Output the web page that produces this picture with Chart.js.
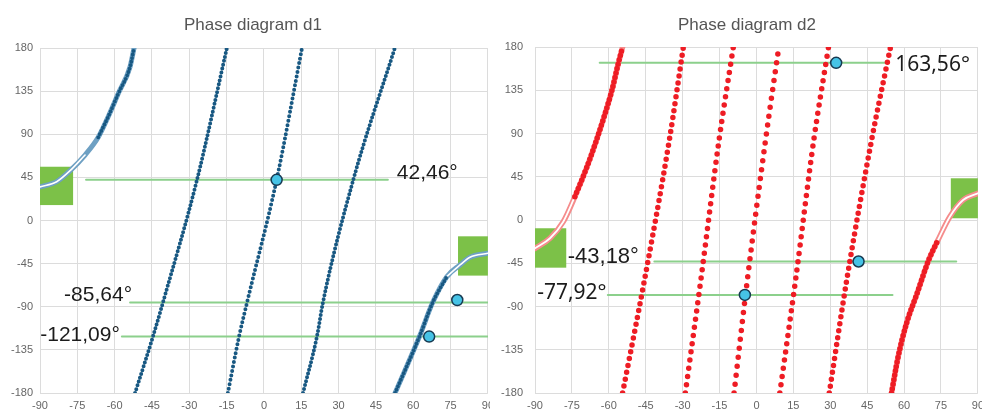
<!DOCTYPE html>
<html>
<head>
<meta charset="utf-8">
<script src="https://cdn.jsdelivr.net/npm/chart.js@4.4.1/dist/chart.umd.min.js"></script>
<style>
  html, body { margin: 0; padding: 0; background: #fff; overflow: hidden; }
  body { width: 982px; height: 414px; position: relative; }
  canvas { position: absolute; top: 0; background: #fff; }
  #d1 { left: 0; }
  #d2 { left: 490px; }
  .title {
    position: absolute; top: 15px; width: 300px; text-align: center;
    font: 17px "Liberation Sans", Arial, sans-serif; line-height: 20px; color: #555;
  }
</style>
</head>
<body>
<canvas id="d1" width="500" height="414"></canvas>
<canvas id="d2" width="500" height="414"></canvas>
<div class="title" style="left: 103px;">Phase diagram d1</div>
<div class="title" style="left: 597px;">Phase diagram d2</div>
<script>
// axis ticks (angle on x, phase on y)
const xTicks = [-90, -75, -60, -45, -30, -15, 0, 15, 30, 45, 60, 75, 90];
const yTicks = [-180, -135, -90, -45, 0, 45, 90, 135, 180];

// --- d1: straight wraps, x read at these phase levels ---
const d1Levels = [-180, -121.09, -85.64, 42.46, 180];
const d1Line1 = [-51.8, -44.6, -40.6, -26.9, -14.9];
const d1Line2 = [-14.5, -10.0, -6.8, 5.1, 15.3];
const d1Line3 = [15.7, 21.3, 23.7, 35.9, 52.6];
// d1 curved ends
const d1LeftX = [-90, -83.3, -77.9, -71.9, -66.6, -62.6, -58.5, -53.8, -52.2];
const d1LeftY = [35, 40.5, 52, 68.3, 86.8, 108.3, 132.7, 160.5, 180];
const d1RightX = [52.7, 62.5, 67.8, 73.5, 78.8, 82.8, 90];
const d1RightY = [-180, -121.09, -85.64, -58.6, -46.4, -38.3, -34.2];
// d1 reference lines, markers, boxes, labels
const d1GuideY = [42.46, -85.64, -121.09];
const d1GuideFrom = [-71.5, -53.8, -57.1];
const d1GuideTo = [49.8, 90, 90];
const d1MarkX = [5.1, 66.4, 77.7];
const d1MarkY = [42.46, -121.09, -83];
const d1BoxX0 = [-90, 78];
const d1BoxX1 = [-76.7, 90];
const d1BoxY0 = [16.1, -57.5];
const d1BoxY1 = [56.1, -16.5];
const d1Texts = ['42,46°', '-85,64°', '-121,09°'];
const d1TextX = [53.4, -53.0, -57.9];
const d1TextY = [49.5, -77.8, -119.6];

// --- d2 ---
const d2Levels = [-180, -62.4, 83.2, 180];
const d2Line1 = [-54.4, -45.5, -35.4, -29.7];
const d2Line2 = [-28.9, -22.6, -15.2, -9.4];
const d2Line3 = [-9.1, -3.7, 3.7, 9.1];
const d2Line4 = [9.5, 15.9, 23.3, 29.3];
const d2Line5 = [29.6, 36.7, 46.8, 54.5];
const d2LeftX = [-90, -83.9, -78.5, -73.8, -69.1, -65, -61.7, -58.7, -56.3, -54.4];
const d2LeftY = [-29.5, -19, -1.8, 24.2, 53.8, 83.2, 109.2, 135.3, 161.3, 180];
const d2RightX = [54.9, 57.6, 61.0, 65.3, 70.0, 73.8, 78.6, 84, 90];
const d2RightY = [-180, -142.2, -107.5, -76.3, -41.6, -20.8, 3.4, 20.8, 27.8];
const d2GuideY = [163.56, -43.18, -77.92];
const d2GuideFrom = [-63.7, -41.5, -60.4];
const d2GuideTo = [52.3, 81.2, 55.3];
const d2MarkX = [32.4, 41.5, -4.7];
const d2MarkY = [163.56, -43.18, -77.92];
const d2BoxX0 = [-90, 79];
const d2BoxX1 = [-77.3, 90];
const d2BoxY0 = [-49.6, 1.8];
const d2BoxY1 = [-8.6, 43.4];
const d2Texts = ['163,56°', '-43,18°', '-77,92°'];
const d2TextX = [56.4, -76.7, -60.9];
const d2TextY = [160.8, -38.5, -76];

const BLUE = 'rgb(24,88,130)';
const RED = 'rgb(238,28,36)';
const GUIDE = 'rgb(140,208,140)';
const BOX = '#7cc148';

Chart.defaults.font.family = '"Liberation Sans", Arial, sans-serif';

function pts(xs, ys) {
    return xs.map((x, i) => ({ x: x, y: ys[i] }));
}

function dotted(data, color, width, gap) {
    return {
        data: data, showLine: true, borderColor: color, borderWidth: width,
        borderDash: [0, gap], borderCapStyle: 'round', borderJoinStyle: 'round',
        pointRadius: 0, cubicInterpolationMode: 'monotone', order: 1
    };
}

function solid(data, color, width, order) {
    return {
        data: data, showLine: true, borderColor: color, borderWidth: width,
        borderCapStyle: 'round', pointRadius: 0, cubicInterpolationMode: 'monotone', order: order
    };
}

function guides(ys, from, to) {
    return ys.map((y, i) => solid([{ x: from[i], y: y }, { x: to[i], y: y }], GUIDE, 2, 5));
}

function markers(xs, ys) {
    return {
        data: pts(xs, ys), showLine: false, pointRadius: 5.5,
        pointBackgroundColor: '#46c3e6', pointBorderColor: '#173a52', pointBorderWidth: 1.5, order: 0
    };
}

// boxes under the data, value labels on top
function overlay(box, text, align, font) {
    return {
        id: 'overlay',
        beforeDatasetsDraw(chart) {
            const { ctx, chartArea: a, scales: { x, y } } = chart;
            ctx.save();
            ctx.beginPath();
            ctx.rect(a.left, a.top, a.right - a.left, a.bottom - a.top);
            ctx.clip();
            ctx.fillStyle = BOX;
            box.x0.forEach((v, i) => {
                const l = x.getPixelForValue(v), r = x.getPixelForValue(box.x1[i]);
                const t = y.getPixelForValue(box.y1[i]), b = y.getPixelForValue(box.y0[i]);
                ctx.fillRect(l, t, r - l, b - t);
            });
            ctx.restore();
        },
        afterDatasetsDraw(chart) {
            const { ctx, scales: { x, y } } = chart;
            ctx.save();
            ctx.fillStyle = '#1c1c1c';
            ctx.textBaseline = 'middle';
            text.t.forEach((s, i) => {
                ctx.font = font[i];
                ctx.textAlign = align[i];
                ctx.fillText(s, x.getPixelForValue(text.x[i]), y.getPixelForValue(text.y[i]));
            });
            ctx.restore();
        }
    };
}

function makeChart(id, datasets, plugin, pad, yWidth, yPad) {
    return new Chart(document.getElementById(id), {
        type: 'scatter',
        data: { datasets: datasets },
        options: {
            responsive: false,
            animation: false,
            devicePixelRatio: 1,
            layout: { padding: pad },
            plugins: {
                legend: { display: false },
                tooltip: { enabled: false },
                title: { display: false }
            },
            scales: {
                x: {
                    type: 'linear', min: -90, max: 90,
                    afterBuildTicks: s => { s.ticks = xTicks.map(v => ({ value: v })); },
                    afterFit: s => { s.height = 21; },
                    grid: { color: '#dcdcdc', drawTicks: false },
                    border: { display: false },
                    ticks: { color: '#666', font: { size: 11 }, padding: 6, maxRotation: 0, autoSkip: false }
                },
                y: {
                    type: 'linear', min: -180, max: 180,
                    afterBuildTicks: s => { s.ticks = yTicks.map(v => ({ value: v })); },
                    afterFit: s => { s.width = yWidth; },
                    grid: { color: '#dcdcdc', drawTicks: false },
                    border: { display: false },
                    ticks: { color: '#666', font: { size: 11 }, padding: yPad }
                }
            }
        },
        plugins: [plugin]
    });
}

// d1 datasets
const d1Sets = [markers(d1MarkX, d1MarkY)]
    .concat([
        dotted(pts(d1Line1, d1Levels), BLUE, 4, 4),
        dotted(pts(d1Line2, d1Levels), BLUE, 4, 4.5),
        dotted(pts(d1Line3, d1Levels), BLUE, 4, 4),
        dotted(pts(d1LeftX.slice(4), d1LeftY.slice(4)), BLUE, 3.8, 3.6),
        dotted(pts(d1RightX.slice(0, 4), d1RightY.slice(0, 4)), BLUE, 3.8, 3.6),
        solid(pts(d1LeftX.slice(0, 4), d1LeftY.slice(0, 4)), '#ffffff', 1.6, 2),
        solid(pts(d1RightX.slice(3), d1RightY.slice(3)), '#ffffff', 1.6, 2),
        solid(pts(d1LeftX, d1LeftY), 'rgb(110,160,195)', 5, 3),
        solid(pts(d1RightX, d1RightY), 'rgb(110,160,195)', 5, 3)
    ])
    .concat(guides(d1GuideY, d1GuideFrom, d1GuideTo));

makeChart('d1', d1Sets,
    overlay({ x0: d1BoxX0, x1: d1BoxX1, y0: d1BoxY0, y1: d1BoxY1 },
            { t: d1Texts, x: d1TextX, y: d1TextY },
            ['left', 'right', 'right'],
            ['21px "Liberation Sans"', '21px "Liberation Sans"', '21px "Liberation Sans"']),
    { left: 0, right: 12, top: 48, bottom: 0 }, 40, 7);

// d2 datasets
const d2Sets = [markers(d2MarkX, d2MarkY)]
    .concat([
        dotted(pts(d2Line1, d2Levels), RED, 5.5, 7),
        dotted(pts(d2Line2, d2Levels), RED, 5.5, 8.3),
        dotted(pts(d2Line3, d2Levels), RED, 5.5, 9),
        dotted(pts(d2Line4, d2Levels), RED, 5.5, 8.3),
        dotted(pts(d2Line5, d2Levels), RED, 5.5, 7),
        dotted(pts(d2LeftX.slice(3), d2LeftY.slice(3)), RED, 5.5, 4.5),
        dotted(pts(d2RightX.slice(0, 6), d2RightY.slice(0, 6)), RED, 5.5, 4.5),
        solid(pts(d2LeftX.slice(0, 4), d2LeftY.slice(0, 4)), '#ffffff', 1.8, 2),
        solid(pts(d2RightX.slice(5), d2RightY.slice(5)), '#ffffff', 1.8, 2),
        solid(pts(d2LeftX, d2LeftY), 'rgb(245,140,140)', 5.5, 3),
        solid(pts(d2RightX, d2RightY), 'rgb(245,140,140)', 5.5, 3)
    ])
    .concat(guides(d2GuideY, d2GuideFrom, d2GuideTo));

makeChart('d2', d2Sets,
    overlay({ x0: d2BoxX0, x1: d2BoxX1, y0: d2BoxY0, y1: d2BoxY1 },
            { t: d2Texts, x: d2TextX, y: d2TextY },
            ['left', 'left', 'right'],
            ['21px "Noto Sans"', '22px "Liberation Sans"', '21px "Noto Sans"']),
    { left: 0, right: 10, top: 47, bottom: 0 }, 45, 12);
</script>
</body>
</html>
